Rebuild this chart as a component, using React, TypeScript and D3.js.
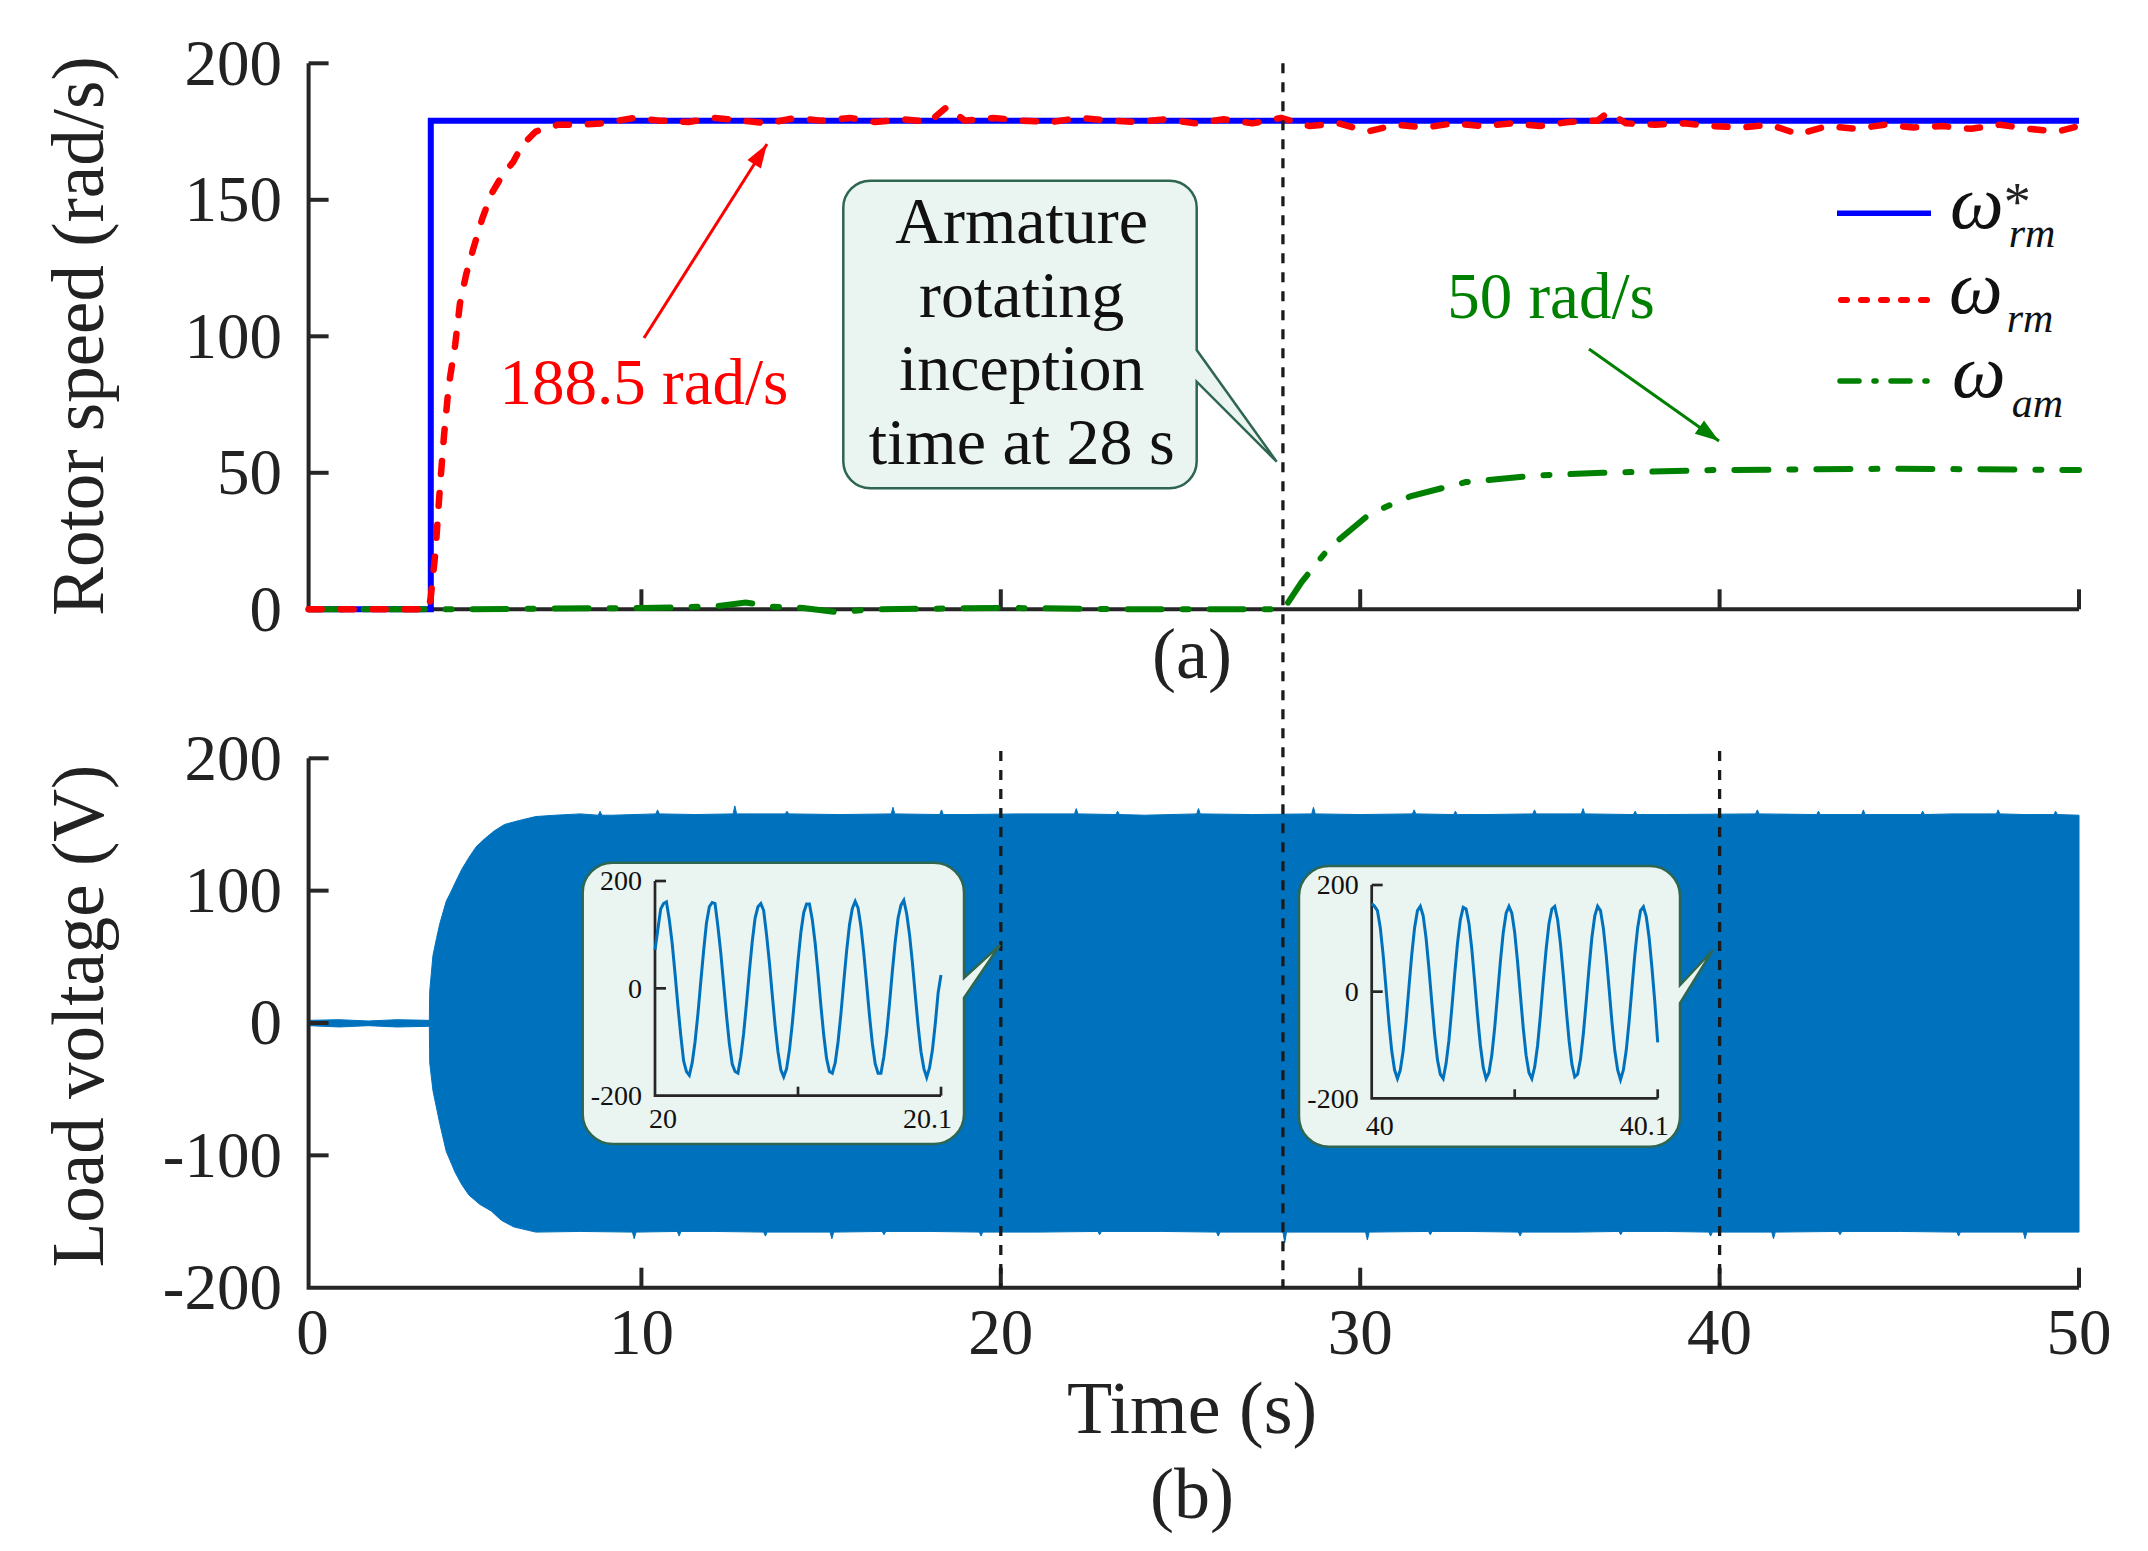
import React from 'react';
import * as d3 from 'd3';

const FONT = "'Liberation Serif', 'Times New Roman', Times, serif";
const AX = '#262626';
const BLUE_FILL = '#0072BD';

// ---------- data ----------
const timeTicks = [0, 10, 20, 30, 40, 50];
const speedTicks = [0, 50, 100, 150, 200];
const voltTicks = [-200, -100, 0, 100, 200];
const tStart = 0.74;
const markerTimesBottom = [20, 40];
const armatureTime = 27.85;

// reference speed  [t, rad/s]
const wrmRef = [[tStart, 0], [4.14, 0], [4.14, 179], [50, 179]];

// measured rotor speed [t, rad/s]
const wrm = [
  [tStart, 0], [4.08, 0], [4.14, 4.5], [4.27, 21], [4.39, 44], [4.51, 64], [4.64, 82], [4.82, 97], [4.95, 112],
  [5.13, 123], [5.32, 132], [5.57, 143], [5.82, 152], [6.13, 159], [6.44, 164], [6.68, 170], [7.06, 175],
  [7.68, 177.5], [8.3, 177.5], [8.9, 178], [9.8, 180], [10.5, 179], [11.3, 178.5], [12.0, 180], [12.8, 179],
  [13.5, 178], [14.3, 180], [15.0, 179], [15.8, 180], [16.5, 178.5], [17.3, 179.5], [18.0, 178.5], [18.5, 184],
  [19.0, 179], [19.8, 180], [20.6, 179], [21.4, 178.5], [22.2, 180], [23.0, 179], [23.8, 178.5], [24.6, 179.5],
  [25.4, 178], [26.2, 179.5], [27.0, 178], [27.8, 180], [28.6, 177], [29.4, 178], [30.2, 175], [31.0, 177.5],
  [31.8, 176.5], [32.6, 178], [33.4, 177], [34.2, 178], [35.0, 177], [35.8, 178.5], [36.6, 179], [36.9, 182],
  [37.4, 178], [38.2, 177.5], [39.0, 178], [39.8, 177], [40.6, 176.5], [41.4, 177.5], [42.2, 174], [43.0, 177],
  [43.8, 176], [44.6, 177.5], [45.4, 176.5], [46.2, 177], [47.0, 176], [47.8, 177.5], [48.6, 176], [49.4, 175],
  [50, 177]
];

// armature speed [t, rad/s]
const wam = [
  [tStart, 0], [5, 0], [10, 0.5], [12, 1], [12.9, 2.5], [13.6, 1], [14.5, 0.5], [15.4, -1], [16.5, 0],
  [20, 0.5], [24, 0], [27.87, 0], [28.37, 10], [29.13, 22.4], [30.27, 35], [31.42, 41.5], [32.94, 46.6],
  [34.85, 49], [36.75, 50], [39.8, 51], [45, 51.5], [50, 51]
];

// load voltage envelope [t, V]
const vUpper = [
  [tStart, 2], [1.6, 2.5], [2.4, 1.5], [3.2, 2.5], [4.1, 2], [4.11, 24], [4.2, 51], [4.3, 64], [4.39, 75],
  [4.57, 92], [4.7, 99], [4.82, 106], [5.0, 116], [5.2, 125], [5.4, 133], [5.63, 139], [5.9, 145], [6.19, 150],
  [6.6, 153], [7.06, 156], [7.6, 157], [8.3, 158], [8.8, 157], [8.85, 160], [8.9, 157], [9.2, 157], [10.4, 158],
  [10.45, 161], [10.5, 158], [11.5, 157.5], [12.55, 158], [12.6, 164], [12.65, 158], [14.0, 158], [14.05, 160],
  [14.1, 158], [15.5, 157.5], [16.95, 158], [17.0, 163], [17.05, 158], [18.3, 157.5], [18.35, 161], [18.4, 157.5],
  [19.0, 157.5], [20.5, 158], [22.05, 158], [22.1, 162], [22.15, 158], [23.2, 157.5], [23.25, 160], [23.3, 157.5],
  [24.0, 157], [25.45, 158], [25.5, 162], [25.55, 158], [27.0, 157.5], [28.65, 158], [28.7, 163], [28.75, 158],
  [30.0, 157.5], [31.45, 158], [31.5, 161], [31.55, 158], [32.6, 157.5], [32.65, 160], [32.7, 157.5], [33.5, 157.5],
  [34.8, 158], [34.85, 161], [34.9, 158], [36.15, 158], [36.2, 162], [36.25, 158], [37.6, 157.5], [37.65, 160],
  [37.7, 157.5], [38.5, 157.5], [41.0, 158], [41.05, 161], [41.1, 158], [42.7, 157.5], [42.75, 160], [42.8, 157.5],
  [43.95, 157.5], [44.0, 161], [44.05, 157.5], [45.6, 157.5], [45.65, 160], [45.7, 157.5], [46.5, 158],
  [47.7, 158], [47.75, 161], [47.8, 158], [48.5, 157.5], [49.3, 157.5], [49.35, 160], [49.4, 157.5], [50, 157]
];
const vLower = [
  [tStart, -2], [1.6, -3], [2.4, -2], [3.2, -3], [4.1, -2.5], [4.11, -30], [4.2, -51], [4.39, -76], [4.57, -97],
  [4.82, -113], [5.0, -122], [5.2, -130], [5.5, -137], [5.82, -142], [6.1, -149], [6.44, -154], [7.06, -158],
  [8.3, -157.5], [9.75, -158], [9.8, -163], [9.85, -158], [11.0, -157.5], [11.05, -161], [11.1, -157.5], [12, -157.5],
  [13.4, -158], [13.45, -161], [13.5, -158], [15.25, -158], [15.3, -163], [15.35, -158], [16.7, -157.5],
  [16.75, -160], [16.8, -157.5], [18, -157.5], [19.4, -158], [19.45, -161], [19.5, -158], [21, -158],
  [22.7, -157.5], [22.75, -160], [22.8, -157.5], [24.5, -157.5], [26.0, -158], [26.05, -161], [26.1, -158],
  [27.85, -158], [27.9, -166], [27.95, -158], [30.15, -158], [30.2, -164], [30.25, -158], [31.9, -157.5],
  [31.95, -160], [32.0, -157.5], [33, -157.5], [34.4, -158], [34.45, -161], [34.5, -158], [36, -158],
  [37.2, -157.5], [37.25, -160], [37.3, -157.5], [38.5, -157.5], [39.7, -158], [39.75, -161], [39.8, -158],
  [41.45, -158], [41.5, -163], [41.55, -158], [43.3, -157.5], [43.35, -160], [43.4, -157.5], [45, -157.5],
  [46.6, -158], [46.65, -161], [46.7, -158], [48.45, -158], [48.5, -163], [48.55, -158], [50, -158]
];

// zoomed waveforms, one sample per ms
const inset1Samples = [
  72, 110, 148, 158, 161, 128, 84, 28, -32, -87, -135, -155, -162, -139, -100, -48, 12, 70, 122, 152,
  160, 158, 115, 66, 8, -51, -103, -141, -155, -158, -128, -84, -28, 32, 87, 131, 152, 158, 145, 100,
  48, -12, -70, -118, -152, -165, -150, -115, -66, -8, 51, 104, 141, 157, 157, 128, 84, 28, -32, -87,
  -131, -155, -158, -139, -100, -48, 12, 70, 118, 149, 162, 150, 115, 66, 8, -51, -103, -141, -158, -158,
  -128, -84, -28, 32, 87, 131, 155, 164, 139, 100, 48, -12, -70, -118, -149, -166, -148, -115, -66, -8,
  25
];
const inset2Samples = [
  165, 160, 152, 120, 69, 6, -57, -111, -147, -163, -147, -111, -57, 7, 69, 120, 152, 160, 142, 101,
  44, -19, -80, -128, -155, -163, -135, -91, -32, 32, 91, 135, 158, 155, 128, 80, 19, -45, -101, -142,
  -163, -152, -119, -68, -6, 57, 111, 147, 160, 147, 111, 56, -7, -69, -120, -152, -163, -141, -101, -44,
  20, 80, 128, 155, 160, 135, 90, 31, -33, -91, -136, -160, -155, -127, -79, -19, 45, 102, 142, 160,
  152, 119, 68, 6, -57, -111, -147, -165, -147, -110, -56, 7, 69, 120, 152, 159, 141, 101, 44, -20,
  -95
];
const insetYTicks = [-200, 0, 200];

// ---------- helpers ----------
function calloutPath(x0: number, y0: number, x1: number, y1: number, r: number,
  ty0: number, ty1: number, tipx: number, tipy: number) {
  return `M${x0 + r},${y0} H${x1 - r} A${r},${r} 0 0 1 ${x1},${y0 + r} V${ty0} L${tipx},${tipy} L${x1},${ty1} ` +
    `V${y1 - r} A${r},${r} 0 0 1 ${x1 - r},${y1} H${x0 + r} A${r},${r} 0 0 1 ${x0},${y1 - r} V${y0 + r} ` +
    `A${r},${r} 0 0 1 ${x0 + r},${y0} Z`;
}

function arrowHead(x1: number, y1: number, x2: number, y2: number, len = 24, hw = 8) {
  const dx = x2 - x1, dy = y2 - y1;
  const L = Math.hypot(dx, dy);
  const ux = dx / L, uy = dy / L;
  const bx = x2 - ux * len, by = y2 - uy * len;
  const px = -uy, py = ux;
  return `M${x2},${y2} L${bx + px * hw},${by + py * hw} L${bx - px * hw},${by - py * hw} Z`;
}

type InsetProps = {
  box: [number, number, number, number];
  tail: [number, number, number, number];
  xr: [number, number];
  yr: [number, number];
  t0: number;
  samples: number[];
  leftLabel: string;
  rightLabel: string;
  labelBase: number;
};

function Inset({ box, tail, xr, yr, t0, samples, leftLabel, rightLabel, labelBase }: InsetProps) {
  const ix = d3.scaleLinear().domain([t0, t0 + 0.1]).range(xr);
  const iy = d3.scaleLinear().domain([-200, 200]).range(yr);
  const n = samples.length;
  const pts = samples.map((v, i) => [t0 + (i * 0.1) / (n - 1), v]);
  const ln = d3.line<number[]>().x(d => ix(d[0])).y(d => iy(d[1]));
  const fs = 28;
  return (
    <g>
      <path d={calloutPath(box[0], box[1], box[2], box[3], 30, tail[0], tail[1], tail[2], tail[3])}
        fill="#EAF4F0" stroke="#2E6650" strokeWidth={2.5} />
      <path d={`M${ix(t0)},${iy(200)} V${iy(-200)} H${ix(t0 + 0.1)}`} fill="none" stroke={AX} strokeWidth={2.7} />
      {insetYTicks.filter(v => v > -200).map(v => (
        <line key={v} x1={ix(t0)} x2={ix(t0) + 11} y1={iy(v)} y2={iy(v)} stroke={AX} strokeWidth={2.7} />
      ))}
      {[t0 + 0.05, t0 + 0.1].map(t => (
        <line key={t} x1={ix(t)} x2={ix(t)} y1={iy(-200)} y2={iy(-200) - 9} stroke={AX} strokeWidth={2.7} />
      ))}
      {insetYTicks.map(v => (
        <text key={v} x={ix(t0) - 13} y={iy(v) + fs * 0.33} fontSize={fs} textAnchor="end" fontFamily={FONT} fill="#111">
          {v}
        </text>
      ))}
      <text x={ix(t0) - 6} y={labelBase} fontSize={fs} textAnchor="start" fontFamily={FONT} fill="#111">{leftLabel}</text>
      <text x={ix(t0 + 0.1) + 11} y={labelBase} fontSize={fs} textAnchor="end" fontFamily={FONT} fill="#111">{rightLabel}</text>
      <path d={ln(pts) || ''} fill="none" stroke={BLUE_FILL} strokeWidth={3} strokeLinejoin="miter" />
    </g>
  );
}

export default function App() {
  const x = d3.scaleLinear().domain([0, 50]).range([282, 2079]);
  const yS = d3.scaleLinear().domain([0, 200]).range([609.3, 63.3]);
  const yV = d3.scaleLinear().domain([-200, 200]).range([1287.7, 758.3]);
  const tx = (t: number) => x(Math.max(t, tStart));

  const lineS = d3.line<number[]>().x(d => x(d[0])).y(d => yS(d[1]));
  const lineXY = d3.line<number[]>();

  const bandPts = [
    ...vUpper.map(d => [x(d[0]), yV(d[1])] as [number, number]),
    ...vLower.slice().reverse().map(d => [x(d[0]), yV(d[1])] as [number, number]),
  ];
  const bandPath = (lineXY(bandPts) || '') + 'Z';

  const tickFs = 65;
  const x0 = x(tStart);

  const redArrow = [644, 338, 767, 144];
  const greenArrow = [1589, 349, 1719, 441];

  return (
    <svg width={2148} height={1551} viewBox="0 0 2148 1551"
      style={{ position: 'absolute', left: 0, top: 0, background: '#fff' }}
      fontFamily={FONT}>
      <rect x={0} y={0} width={2148} height={1551} fill="#fff" />

      {/* ================= (a) rotor speed ================= */}
      <path d={`M${x0},${yS(200)} V${yS(0)} H${x(50)}`} fill="none" stroke={AX} strokeWidth={4} />
      {speedTicks.filter(v => v > 0).map(v => (
        <line key={v} x1={x0} x2={x0 + 20} y1={yS(v)} y2={yS(v)} stroke={AX} strokeWidth={4} />
      ))}
      {timeTicks.filter(t => t > 0).map(t => (
        <line key={t} x1={x(t)} x2={x(t)} y1={yS(0)} y2={yS(0) - 20} stroke={AX} strokeWidth={4} />
      ))}
      {speedTicks.map(v => (
        <text key={v} x={282} y={yS(v) + tickFs * 0.33} fontSize={tickFs} textAnchor="end" fill="#222">{v}</text>
      ))}
      <text transform={`translate(103,336) rotate(-90)`} fontSize={73} textAnchor="middle" fill="#222">Rotor speed (rad/s)</text>

      {/* series */}
      <path d={lineS(wrmRef) || ''} fill="none" stroke="#0000FF" strokeWidth={6} strokeLinejoin="miter" />
      <path d={lineS(wam) || ''} fill="none" stroke="#008000" strokeWidth={6} strokeDasharray="34 21 6 21"
        strokeLinecap="round" />
      <path d={lineS(wrm) || ''} fill="none" stroke="#FF0000" strokeWidth={6.5} strokeDasharray="13 19"
        strokeLinecap="round" strokeLinejoin="round" />

      {/* legend */}
      <line x1={1837} x2={1931} y1={213.3} y2={213.3} stroke="#0000FF" strokeWidth={5.5} />
      <line x1={1841} x2={1928} y1={300} y2={300} stroke="#FF0000" strokeWidth={6} strokeDasharray="6 14" strokeLinecap="round" />
      <line x1={1840} x2={1929} y1={381} y2={381} stroke="#008000" strokeWidth={5.5} strokeDasharray="19 15 2 15" strokeLinecap="round" />
      <text x={1950} y={228} fill="#111">
        <tspan fontSize={76} fontStyle="italic">ω</tspan>
        <tspan fontSize={54} dy={-8} fill="#222">*</tspan>
        <tspan fontSize={42} fontStyle="italic" dx={-22} dy={27}>rm</tspan>
      </text>
      <text x={1949} y={313} fill="#111">
        <tspan fontSize={76} fontStyle="italic">ω</tspan>
        <tspan fontSize={42} fontStyle="italic" dx={4} dy={19}>rm</tspan>
      </text>
      <text x={1952} y={397} fill="#111">
        <tspan fontSize={76} fontStyle="italic">ω</tspan>
        <tspan fontSize={42} fontStyle="italic" dx={6} dy={20}>am</tspan>
      </text>

      {/* annotations */}
      <text x={644} y={404} fontSize={65} textAnchor="middle" fill="#FF0000">188.5 rad/s</text>
      <line x1={redArrow[0]} y1={redArrow[1]} x2={redArrow[2]} y2={redArrow[3]} stroke="#FF0000" strokeWidth={3} />
      <path d={arrowHead(redArrow[0], redArrow[1], redArrow[2], redArrow[3])} fill="#FF0000" />
      <text x={1551} y={318} fontSize={65} textAnchor="middle" fill="#008000">50 rad/s</text>
      <line x1={greenArrow[0]} y1={greenArrow[1]} x2={greenArrow[2]} y2={greenArrow[3]} stroke="#008000" strokeWidth={3} />
      <path d={arrowHead(greenArrow[0], greenArrow[1], greenArrow[2], greenArrow[3])} fill="#008000" />

      <path d={calloutPath(843.3, 180.7, 1196.7, 488.3, 27, 350, 381.7, 1276.7, 461.7)}
        fill="#EAF4F0" stroke="#2E6650" strokeWidth={2.5} />
      {['Armature', 'rotating', 'inception', 'time at 28 s'].map((s, i) => (
        <text key={s} x={1021.7} y={243.3 + i * 73.4} fontSize={66} textAnchor="middle" fill="#111">{s}</text>
      ))}

      <text x={1192} y={678} fontSize={72} textAnchor="middle" fill="#222">(a)</text>

      {/* ================= (b) load voltage ================= */}
      <path d={bandPath} fill={BLUE_FILL} stroke={BLUE_FILL} strokeWidth={1} />

      <path d={`M${x0},${yV(200)} V${yV(-200)} H${x(50)}`} fill="none" stroke={AX} strokeWidth={4} />
      {voltTicks.filter(v => v > -200).map(v => (
        <line key={v} x1={x0} x2={x0 + 20} y1={yV(v)} y2={yV(v)} stroke={AX} strokeWidth={4} />
      ))}
      {timeTicks.filter(t => t > 0).map(t => (
        <line key={t} x1={x(t)} x2={x(t)} y1={yV(-200)} y2={yV(-200) - 20} stroke={AX} strokeWidth={4} />
      ))}
      {voltTicks.map(v => (
        <text key={v} x={282} y={yV(v) + tickFs * 0.33} fontSize={tickFs} textAnchor="end" fill="#222">{v}</text>
      ))}
      {timeTicks.map(t => (
        <text key={t} x={tx(t) + (t === 0 ? 4 : 0)} y={1354} fontSize={tickFs} textAnchor="middle" fill="#222">{t}</text>
      ))}
      <text transform={`translate(103,1016) rotate(-90)`} fontSize={73} textAnchor="middle" fill="#222">Load voltage (V)</text>
      <text x={1192} y={1433} fontSize={74} textAnchor="middle" fill="#222">Time (s)</text>
      <text x={1192} y={1518} fontSize={72} textAnchor="middle" fill="#222">(b)</text>

      {/* vertical markers */}
      {markerTimesBottom.map(t => (
        <line key={t} x1={x(t)} x2={x(t)} y1={751} y2={yV(-200)} stroke="#1a1a1a" strokeWidth={3.3} strokeDasharray="10 9" />
      ))}
      <line x1={x(armatureTime)} x2={x(armatureTime)} y1={yS(200)} y2={yV(-200)} stroke="#1a1a1a" strokeWidth={3.3} strokeDasharray="10 9" />

      {/* insets */}
      <Inset box={[582.7, 862.7, 964, 1144]} tail={[978, 998, 1000, 945]} xr={[655, 941]} yr={[1095.7, 881]}
        t0={20} samples={inset1Samples} leftLabel="20" rightLabel="20.1" labelBase={1128} />
      <Inset box={[1299, 866, 1680, 1146.7]} tail={[985, 1003, 1713, 950]} xr={[1371.7, 1657.7]} yr={[1098.3, 885]}
        t0={40} samples={inset2Samples} leftLabel="40" rightLabel="40.1" labelBase={1135} />
    </svg>
  );
}
